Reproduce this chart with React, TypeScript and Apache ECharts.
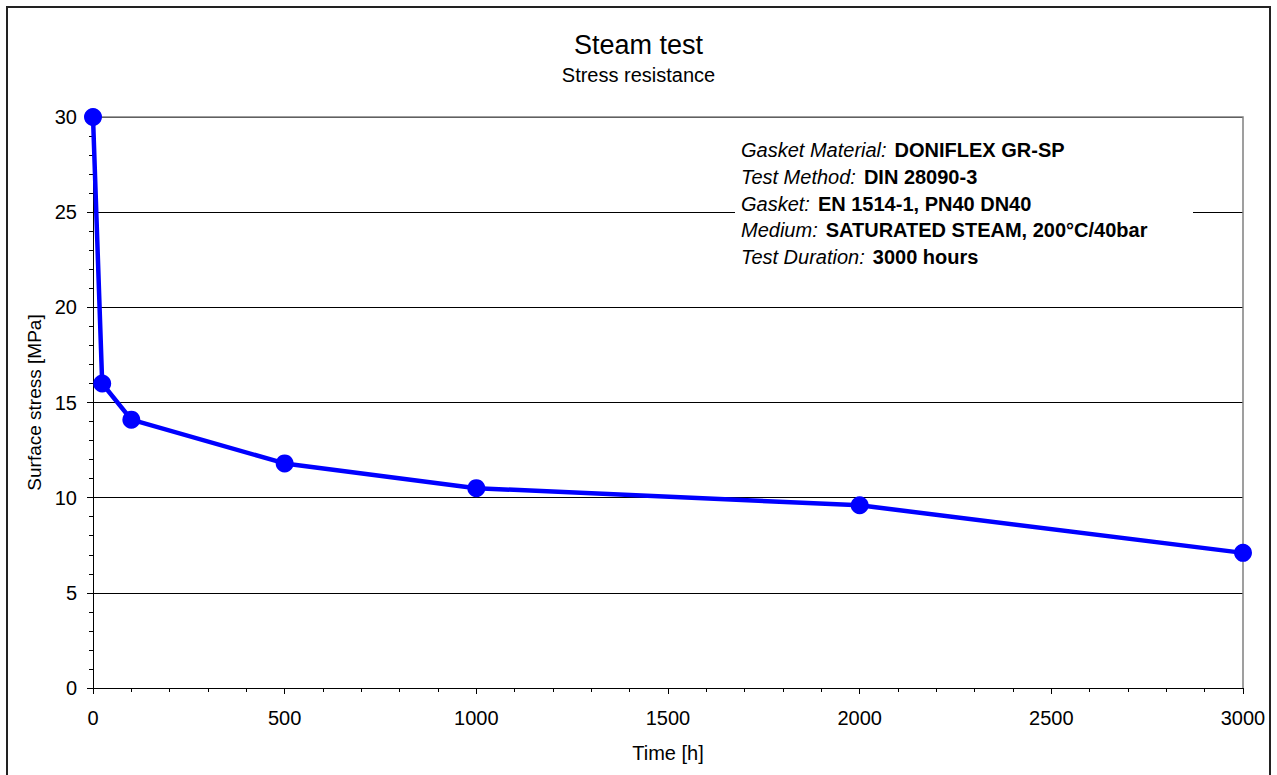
import React, { useEffect, useRef } from "react";
import * as echarts from "echarts";

const timeHours = [0, 24, 100, 500, 1000, 2000, 3000];
const surfaceStress = [30, 16, 14.1, 11.8, 10.5, 9.6, 7.1];

const infoLabels = ["Gasket Material:", "Test Method:", "Gasket:", "Medium:", "Test Duration:"];
const infoValues = [
  "DONIFLEX GR-SP",
  "DIN 28090-3",
  "EN 1514-1, PN40 DN40",
  "SATURATED STEAM, 200°C/40bar",
  "3000 hours",
];

const FONT = "'Liberation Sans', Arial, Helvetica, sans-serif";
const W = 1277;
const H = 775;
const G = { left: 93, top: 117, right: 1243, bottom: 688 };

export default function App() {
  const ref = useRef<HTMLDivElement>(null);
  useEffect(() => {
    if (!ref.current) return;
    const chart = echarts.init(ref.current, undefined, { renderer: "svg" });
    const seriesData = timeHours.map((t, i) => [t, surfaceStress[i]]);

    const infoElements: any[] = [];
    infoLabels.forEach((lab, i) => {
      infoElements.push({
        type: "text",
        left: 741,
        top: 140 + i * 26.75,
        z: 60,
        style: {
          text: `{i|${lab}}{g|}{b|${infoValues[i]}}`,
          font: `20px ${FONT}`,
          fill: "#000",
          rich: {
            i: { fontStyle: "italic", fontSize: 20, fontFamily: FONT, lineHeight: 27 },
            g: { width: 8, lineHeight: 27 },
            b: { fontWeight: "bold", fontSize: 20, fontFamily: FONT, lineHeight: 27 },
          },
        },
      });
    });

    chart.setOption({
      animation: false,
      backgroundColor: "#fff",
      textStyle: { fontFamily: FONT },
      title: {
        text: "Steam test",
        subtext: "Stress resistance",
        left: "center",
        top: 26,
        itemGap: 7,
        textStyle: { fontSize: 27, fontWeight: "normal", color: "#000", fontFamily: FONT },
        subtextStyle: { fontSize: 20, color: "#000", fontFamily: FONT },
      },
      grid: {
        left: G.left,
        top: G.top,
        right: W - G.right,
        bottom: H - G.bottom,
        containLabel: false,
      },
      xAxis: {
        type: "value",
        min: 0,
        max: 3000,
        interval: 500,
        name: "Time [h]",
        nameLocation: "middle",
        nameGap: 55,
        nameTextStyle: { fontSize: 20, color: "#000", fontFamily: FONT },
        axisLine: { show: true, lineStyle: { color: "#000", width: 1 } },
        axisTick: { show: true, length: 6, lineStyle: { color: "#000" } },
        minorTick: { show: true, splitNumber: 5, length: 4, lineStyle: { color: "#000" } },
        axisLabel: {
          fontSize: 20,
          color: "#000",
          margin: 20,
          fontFamily: FONT,
          formatter: (v: number) => String(v),
        },
        splitLine: { show: false },
      },
      yAxis: {
        type: "value",
        min: 0,
        max: 30,
        interval: 5,
        name: "Surface stress [MPa]",
        nameLocation: "middle",
        nameGap: 39,
        nameTextStyle: { fontSize: 19, color: "#000", fontFamily: FONT },
        axisLine: { show: true, lineStyle: { color: "#000", width: 1 } },
        axisTick: { show: true, length: 6, lineStyle: { color: "#000" } },
        minorTick: { show: true, splitNumber: 5, length: 4, lineStyle: { color: "#000" } },
        axisLabel: { fontSize: 20, color: "#000", margin: 16, fontFamily: FONT },
        splitLine: { show: true, lineStyle: { color: "#000", width: 1 } },
      },
      graphic: [
        {
          type: "rect",
          z: 50,
          shape: { x: 735, y: 124, width: 458, height: 160 },
          style: { fill: "#fff", stroke: "none" },
        },
        ...infoElements,
        {
          type: "polyline",
          z: 55,
          shape: {
            points: [
              [G.left, G.top],
              [G.right, G.top],
              [G.right, G.bottom],
            ],
          },
          style: { stroke: "#808080", lineWidth: 1.5, fill: "none" },
        },
        {
          type: "rect",
          z: 70,
          shape: { x: 7, y: 7, width: 1263, height: 800 },
          style: { fill: "none", stroke: "#222", lineWidth: 2 },
        },
      ],
      series: [
        {
          type: "line",
          data: seriesData,
          z: 80,
          symbol: "circle",
          symbolSize: 18,
          lineStyle: { color: "#0000FF", width: 4.5 },
          itemStyle: { color: "#0000FF" },
          emphasis: { disabled: true },
        },
      ],
    });
    return () => chart.dispose();
  }, []);
  return (
    <div
      ref={ref}
      style={{ position: "absolute", left: 0, top: 0, width: W, height: H }}
    />
  );
}
